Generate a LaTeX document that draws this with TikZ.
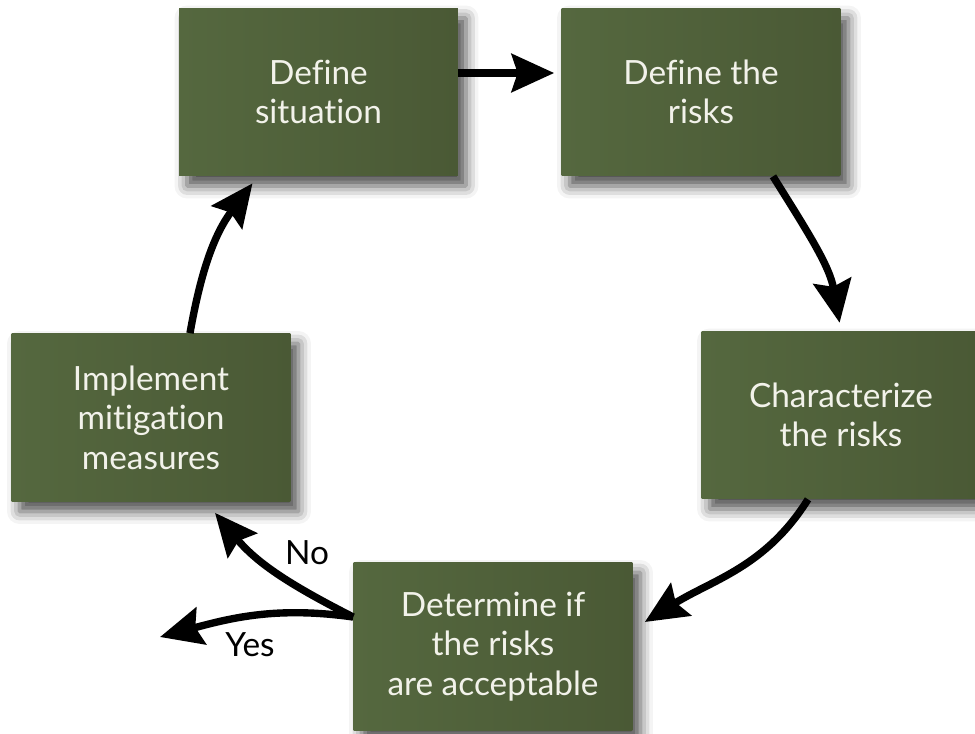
\documentclass[tikz,border=0pt]{standalone}
\usepackage{fontspec}
\setmainfont{Lato}[Ligatures=NoCommon]
\usetikzlibrary{arrows.meta,shadows.blur}

\definecolor{boxlight}{HTML}{55683F}
\definecolor{boxdark}{HTML}{4A5935}
\definecolor{boxtext}{HTML}{F2F2EA}

\tikzset{
  stepbox/.style={rectangle, minimum width=5.58cm, minimum height=3.36cm,
    left color=boxlight, right color=boxdark, text=boxtext, align=center,
    font=\fontsize{19}{22.5}\selectfont,
    blur shadow={shadow xshift=0.16cm, shadow yshift=-0.2cm,
      shadow blur radius=0.25cm, shadow opacity=70}},
  cyclearrow/.style={line width=4.2pt,
    -{Stealth[length=0.85cm,width=0.76cm,inset=0.12cm]}},
  answer/.style={font=\fontsize{19}{21}\selectfont}
}

\begin{document}
\begin{tikzpicture}[x=0.02cm,y=-0.02cm]
% page size of the reference, in pixels
\useasboundingbox (0,0) rectangle (975,734);

% the five steps of the cycle
\node[stepbox] (situation) at (318.5,92) {Define\\situation};
\node[stepbox] (risks) at (701,92) {Define the\\risks};
\node[stepbox] (character) at (841,415) {Characterize\\the risks};
\node[stepbox] (accept) at (493,646.5) {Determine if\\the risks\\are acceptable};
\node[stepbox] (mitigate) at (151,417.5) {Implement\\mitigation\\measures};

% arrows round the cycle
\draw[cyclearrow, shorten >=0.14cm] ([yshift=0.38cm]situation.east) -- ([yshift=0.38cm]risks.west);
\draw[cyclearrow, shorten >=0.16cm] ([xshift=1.44cm]risks.south) to[out=-58,in=100] (character.north);
\draw[cyclearrow] ([xshift=-0.66cm]character.south) to[out=-122,in=32] ([xshift=0.24cm,yshift=0.49cm]accept.east);
\draw[cyclearrow] ([xshift=0.78cm]mitigate.north) to[out=80,in=-127] ([xshift=-1.32cm,yshift=-0.14cm]situation.south);

% the two answers
\coordinate (exit) at (160,637);
\draw[cyclearrow] ([yshift=0.59cm]accept.west) to[out=153,in=-50] ([xshift=1.28cm,yshift=-0.22cm]mitigate.south);
\draw[cyclearrow] ([yshift=0.59cm]accept.west) to[out=172,in=15] (exit);
\node[answer] (no) at (307,553) {No};
\node[answer] (yes) at (250,645) {Yes};
\end{tikzpicture}
\end{document}
